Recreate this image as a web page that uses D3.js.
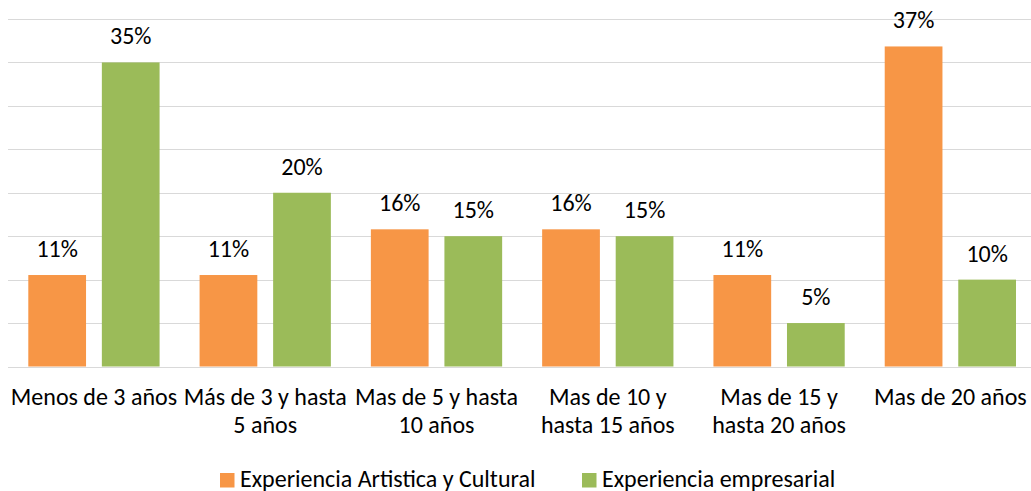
<!DOCTYPE html>
<html lang='es'>

<head>
    <meta charset='UTF-8'>
    <title>Experiencia por años</title>
    <script src='https://cdn.jsdelivr.net/npm/d3@7/dist/d3.min.js'></script>
    <style>
        body {
            margin: 0;
            background: #fff;
        }

        svg {
            font-family: Calibri, Carlito, Lato, sans-serif;
        }

        svg text {
            fill: #000;
        }

        .grid line {
            stroke: #d9d9d9;
            stroke-width: 1;
            shape-rendering: crispEdges;
        }

        .grid path {
            stroke-width: 0;
        }
    </style>
</head>

<body>
    <script>
        // Data
        const categories = [
            'Menos de 3 años',
            'Más de 3 y hasta\n5 años',
            'Mas de 5 y hasta\n10 años',
            'Mas de 10 y\nhasta 15 años',
            'Mas de 15 y\nhasta 20 años',
            'Mas de 20 años'
        ];
        const seriesNames = ['Experiencia Artistica y Cultural', 'Experiencia empresarial'];
        const artistica = [10.53, 10.53, 15.79, 15.79, 10.53, 36.84];
        const empresarial = [35, 20, 15, 15, 5, 10];
        const gridTicks = [0, 5, 10, 15, 20, 25, 30, 35, 40];
        const colors = ['#f79646', '#9bbb59'];

        const width = 1031, height = 491;
        const plot = { left: 8.3, right: 1036, top: 19, bottom: 366.5 };
        const fontSize = 24;

        const rows = categories.map((c, i) => ({ cat: c, values: [artistica[i], empresarial[i]] }));

        const svg = d3.select('body')
            .append('svg')
            .attr('width', width)
            .attr('height', height);

        const x0 = d3.scaleBand()
            .domain(categories)
            .range([plot.left, plot.right])
            .padding(0);

        const x1 = d3.scaleBand()
            .domain([0, 1])
            .range([20, x0.bandwidth() - 20])
            .paddingInner(0.215);

        const y = d3.scaleLinear()
            .domain([0, 40])
            .range([plot.bottom, plot.top]);

        // grid
        svg.append('g')
            .attr('class', 'grid')
            .attr('transform', `translate(${plot.left}, 0)`)
            .call(d3.axisLeft(y).tickValues(gridTicks).tickSize(-(width - plot.left)).tickFormat(''));

        // bars
        const groups = svg.selectAll('.group')
            .data(rows)
            .enter().append('g')
            .attr('class', 'group')
            .attr('transform', d => `translate(${x0(d.cat)}, 0)`);

        groups.selectAll('rect')
            .data(d => d.values.map((v, k) => ({ k, v })))
            .enter().append('rect')
            .attr('x', d => x1(d.k))
            .attr('y', d => y(d.v))
            .attr('width', x1.bandwidth())
            .attr('height', d => y(0) - y(d.v))
            .attr('fill', d => colors[d.k]);

        groups.selectAll('.lbl')
            .data(d => d.values.map((v, k) => ({ k, v })))
            .enter().append('text')
            .attr('class', 'lbl')
            .attr('x', d => x1(d.k) + x1.bandwidth() / 2)
            .attr('y', d => y(d.v) - 18)
            .attr('text-anchor', 'middle')
            .style('font-size', fontSize + 'px')
            .text(d => Math.round(d.v) + '%');

        // category axis
        const xAxis = svg.append('g')
            .attr('transform', `translate(0, ${plot.bottom})`)
            .call(d3.axisBottom(x0).tickSize(0).tickFormat(''))
            .attr('font-family', null)
            .attr('font-size', null);
        xAxis.select('.domain').remove();

        xAxis.selectAll('.tick').append('text')
            .attr('text-anchor', 'middle')
            .style('font-size', fontSize + 'px')
            .each(function (d) {
                const t = d3.select(this);
                d.split('\n').forEach((line, i) => {
                    t.append('tspan')
                        .attr('x', 0)
                        .attr('y', 38.5 + i * 28)
                        .text(line);
                });
            });

        // legend
        const legendX = [220, 582];
        const legend = svg.append('g')
            .selectAll('g')
            .data(seriesNames)
            .enter().append('g')
            .attr('transform', (d, i) => `translate(${legendX[i]}, 473)`);

        legend.append('rect')
            .attr('width', 14.5)
            .attr('height', 14.5)
            .attr('fill', (d, i) => colors[i]);

        legend.append('text')
            .attr('x', 20)
            .attr('y', 14)
            .style('font-size', fontSize + 'px')
            .text(d => d);
    </script>
</body>

</html>
